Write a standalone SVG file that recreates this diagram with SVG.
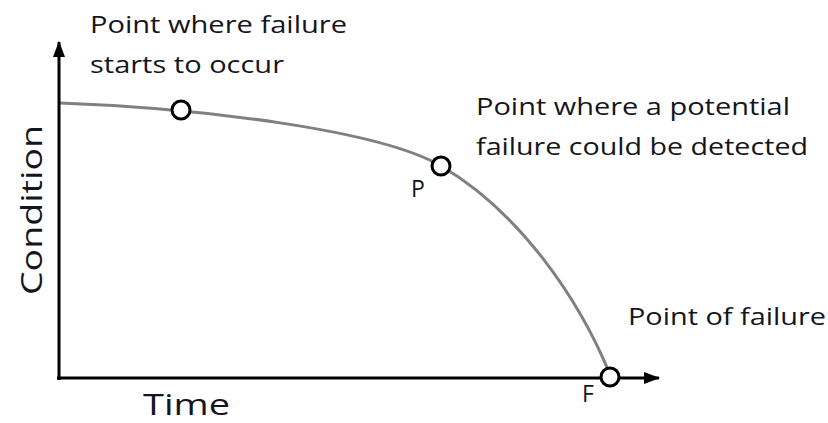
<svg xmlns="http://www.w3.org/2000/svg" width="828" height="423" viewBox="0 0 828 423">
<style>
.t{font-family:"Open Sans","Liberation Sans",sans-serif;fill:#151520}
.lab{font-size:23px}
.ax{font-size:30px}
.pt{fill:#fff;stroke:#000;stroke-width:3}
</style>
<defs>
<marker id="ah" markerWidth="16" markerHeight="14" refX="15" refY="7" orient="auto" markerUnits="userSpaceOnUse" viewBox="0 0 16 14">
<path d="M0,1 L16,7 L0,13 Z" fill="#000"/>
</marker>
</defs>
<rect width="828" height="423" fill="#fff"/>
<g id="connectors">
<path d="M60,103 C200,108 380,130 441,166 C520,212 580,300 611,377" fill="none" stroke="#808080" stroke-width="3"/>
<line x1="59" y1="380" x2="59" y2="42" stroke="#000" stroke-width="3" marker-end="url(#ah)"/>
<line x1="57" y1="378" x2="659" y2="378" stroke="#000" stroke-width="3" marker-end="url(#ah)"/>
</g>
<g id="axis-labels">
<text class="t ax" x="143" y="415" textLength="87" lengthAdjust="spacingAndGlyphs">Time</text>
<text class="t ax" transform="translate(42,295) rotate(-90)" textLength="170" lengthAdjust="spacingAndGlyphs">Condition</text>
</g>
<g id="node-start">
<circle class="pt" cx="181" cy="110" r="9"/>
<text class="t lab" x="90" y="33" textLength="257" lengthAdjust="spacingAndGlyphs">Point where failure</text>
<text class="t lab" x="90" y="73" textLength="194" lengthAdjust="spacingAndGlyphs">starts to occur</text>
</g>
<g id="node-P">
<circle class="pt" cx="441" cy="166" r="9"/>
<text class="t lab" x="411" y="197">P</text>
<text class="t lab" x="476" y="115" textLength="314" lengthAdjust="spacingAndGlyphs">Point where a potential</text>
<text class="t lab" x="476" y="155" textLength="332" lengthAdjust="spacingAndGlyphs">failure could be detected</text>
</g>
<g id="node-F">
<circle class="pt" cx="610" cy="377" r="9"/>
<text class="t lab" x="582" y="402">F</text>
<text class="t lab" x="628" y="325" textLength="198" lengthAdjust="spacingAndGlyphs">Point of failure</text>
</g>
</svg>
